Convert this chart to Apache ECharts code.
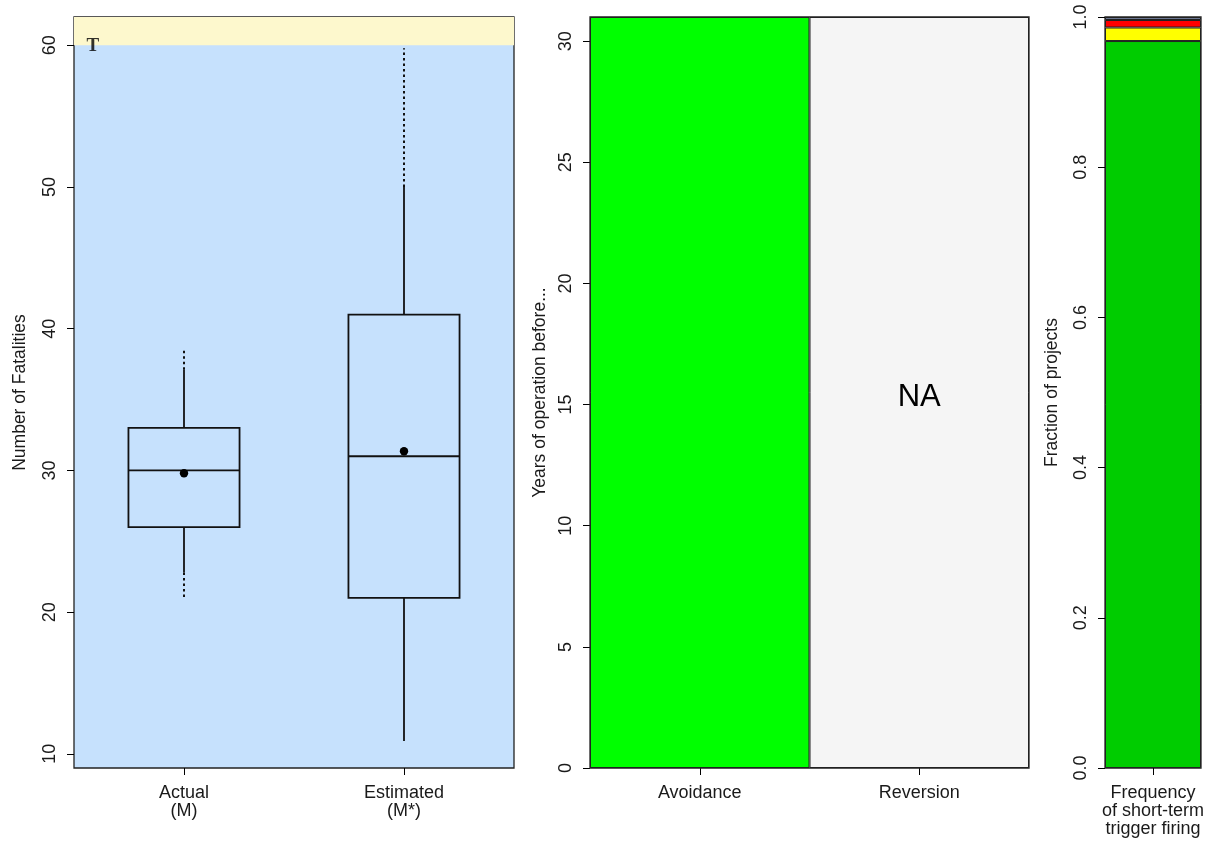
<!DOCTYPE html>
<html>
<head>
<meta charset="utf-8">
<script src="https://cdn.jsdelivr.net/npm/echarts@6/dist/echarts.min.js"></script>
<style>
html,body{margin:0;padding:0;background:#fff;}
#chart{width:1209px;height:847px;}
</style>
</head>
<body>
<div id="chart"></div>
<script>
// ---- Panel 1: boxplot of fatalities ----
const boxCategories = ['Actual\n(M)', 'Estimated\n(M*)'];
const outerLow  = [20.9, 10.9];
const whiskLow  = [22.8, 10.9];
const q1        = [26, 21];
const median    = [30, 31];
const q3        = [33, 41];
const whiskHigh = [37.1, 50];
const outerHigh = [38.6, 59.8];
const meanVals  = [29.8, 31.35];
const fatalTicks = [10, 20, 30, 40, 50, 60];
const thresholdValue = 60;
const thresholdMarker = [[0.043, 60]];

// ---- Panel 2: years of operation ----
const yearCategories = ['Avoidance', 'Reversion'];
const yearValues = [31, null];
const yearTicks = [0, 5, 10, 15, 20, 25, 30];

// ---- Panel 3: fraction of projects ----
const fracCategories = ['Frequency\nof short-term\ntrigger firing'];
const fracGreen  = [0.968];
const fracYellow = [0.018];
const fracRed    = [0.010];
const fracGray   = [0.004];
const fracTicks  = [0, 0.2, 0.4, 0.6, 0.8, 1.0];

const FONT = '"Liberation Sans", Arial, sans-serif';
const TXT = '#1a1a1a';
const yMax2 = 31;

function yAxisBase(gridIndex, min, max, ticks, name, gap, fmt) {
  return {
    type: 'value', gridIndex, min, max,
    name, nameLocation: 'middle', nameRotate: 90, nameGap: gap,
    nameTextStyle: {fontFamily: FONT, fontSize: 17.5, color: TXT},
    axisLine: {show: false},
    axisTick: {show: true, length: 7, customValues: ticks, lineStyle: {color: '#000', width: 1}},
    axisLabel: {show: true, rotate: 90, margin: 15, customValues: ticks,
      fontFamily: FONT, fontSize: 18, color: TXT, formatter: fmt},
    splitLine: {show: false}
  };
}
function xAxisBase(gridIndex, data) {
  return {
    type: 'category', gridIndex, data,
    axisLine: {show: false},
    axisTick: {show: true, length: 7, alignWithLabel: true, lineStyle: {color: '#000', width: 1}},
    axisLabel: {margin: 16, fontFamily: FONT, fontSize: 18, lineHeight: 18, color: TXT, interval: 0},
    splitLine: {show: false}
  };
}

const boxData = boxCategories.map((c, i) => [i, outerLow[i], whiskLow[i], q1[i], median[i], q3[i], whiskHigh[i], outerHigh[i], meanVals[i]]);

const na = yearValues.map(v => v == null ? yMax2 : null);

const option = {
  animation: false,
  backgroundColor: '#fff',
  grid: [
    {left: 74, width: 440, top: 17, height: 751, show: true, backgroundColor: '#C6E1FD', borderColor: '#222', borderWidth: 1.3},
    {left: 590, width: 439, top: 17, height: 751, show: true, backgroundColor: 'transparent', borderColor: '#222', borderWidth: 1.3, z: 3},
    {left: 1105, width: 96, top: 17, height: 751, show: true, backgroundColor: 'transparent', borderColor: '#222', borderWidth: 1.3}
  ],
  xAxis: [
    xAxisBase(0, boxCategories),
    xAxisBase(1, yearCategories),
    xAxisBase(2, fracCategories),
    {type: 'value', gridIndex: 0, min: 0, max: 1, show: false}
  ],
  yAxis: [
    yAxisBase(0, 9, 62, fatalTicks, 'Number of Fatalities', 45),
    yAxisBase(1, 0, yMax2, yearTicks, 'Years of operation before...', 41),
    yAxisBase(2, 0, 1, fracTicks, 'Fraction of projects', 44, v => Number(v).toFixed(1))
  ],
  series: [
    {
      type: 'scatter', xAxisIndex: 3, yAxisIndex: 0,
      data: thresholdMarker, symbolSize: 0.001,
      label: {show: true, position: 'inside', formatter: 'T', fontFamily: '"Liberation Serif", "DejaVu Serif", serif',
        fontSize: 19, fontWeight: 'bold', color: '#000', offset: [0, 1]},
      markArea: {silent: true, itemStyle: {color: '#FDF8CD'},
        data: [[{yAxis: thresholdValue}, {yAxis: 62}]]},
      z: 1
    },
    {
      type: 'custom', xAxisIndex: 0, yAxisIndex: 0,
      data: boxData,
      renderItem(params, api) {
        const x = api.value(0);
        const c = v => api.coord([x, v]);
        const bw = api.size([1, 0])[0] * 0.505;
        const cx = c(api.value(4))[0];
        const yOL = c(api.value(1))[1], yWL = c(api.value(2))[1], yQ1 = c(api.value(3))[1];
        const yMed = c(api.value(4))[1], yQ3 = c(api.value(5))[1], yWH = c(api.value(6))[1];
        const yOH = c(api.value(7))[1], yMean = c(api.value(8))[1];
        const solid = {stroke: '#111', lineWidth: 1.8, fill: null};
        const dotted = {stroke: '#111', lineWidth: 2, lineDash: [2.5, 3], fill: null};
        const ch = [
          {type: 'rect', shape: {x: cx - bw / 2, y: yQ3, width: bw, height: yQ1 - yQ3}, style: solid},
          {type: 'line', shape: {x1: cx - bw / 2, y1: yMed, x2: cx + bw / 2, y2: yMed}, style: solid},
          {type: 'line', shape: {x1: cx, y1: yQ3, x2: cx, y2: yWH}, style: solid},
          {type: 'line', shape: {x1: cx, y1: yQ1, x2: cx, y2: yWL}, style: solid}
        ];
        if (yOH !== yWH) ch.push({type: 'line', shape: {x1: cx, y1: yWH, x2: cx, y2: yOH}, style: dotted});
        if (yOL !== yWL) ch.push({type: 'line', shape: {x1: cx, y1: yWL, x2: cx, y2: yOL}, style: dotted});
        ch.push({type: 'circle', shape: {cx: cx, cy: yMean, r: 4.2}, style: {fill: '#000'}});
        return {type: 'group', children: ch};
      },
      z: 3
    },
    {
      type: 'bar', xAxisIndex: 1, yAxisIndex: 1, data: yearValues,
      barWidth: '100%', barGap: '-100%',
      itemStyle: {color: '#00FF00', borderColor: '#222', borderWidth: 1}
    },
    {
      type: 'bar', xAxisIndex: 1, yAxisIndex: 1, data: na,
      barWidth: '100%', barGap: '-100%',
      itemStyle: {color: '#F5F5F5', borderColor: '#222', borderWidth: 1},
      label: {show: true, position: 'inside', formatter: 'NA', fontFamily: FONT, fontSize: 31, color: '#000', offset: [0, 5]}
    },
    {type: 'bar', stack: 'f', xAxisIndex: 2, yAxisIndex: 2, data: fracGreen, barWidth: '100%',
      itemStyle: {color: '#00CC00', borderColor: '#222', borderWidth: 1}},
    {type: 'bar', stack: 'f', xAxisIndex: 2, yAxisIndex: 2, data: fracYellow, barWidth: '100%',
      itemStyle: {color: '#FFFF00', borderColor: '#222', borderWidth: 1}},
    {type: 'bar', stack: 'f', xAxisIndex: 2, yAxisIndex: 2, data: fracRed, barWidth: '100%',
      itemStyle: {color: '#FF0000', borderColor: '#222', borderWidth: 1}},
    {type: 'bar', stack: 'f', xAxisIndex: 2, yAxisIndex: 2, data: fracGray, barWidth: '100%',
      itemStyle: {color: '#6A7590', borderColor: '#222', borderWidth: 1}}
  ]
};

const chart = echarts.init(document.getElementById('chart'), null, {renderer: 'canvas'});
chart.setOption(option);
</script>
</body>
</html>
